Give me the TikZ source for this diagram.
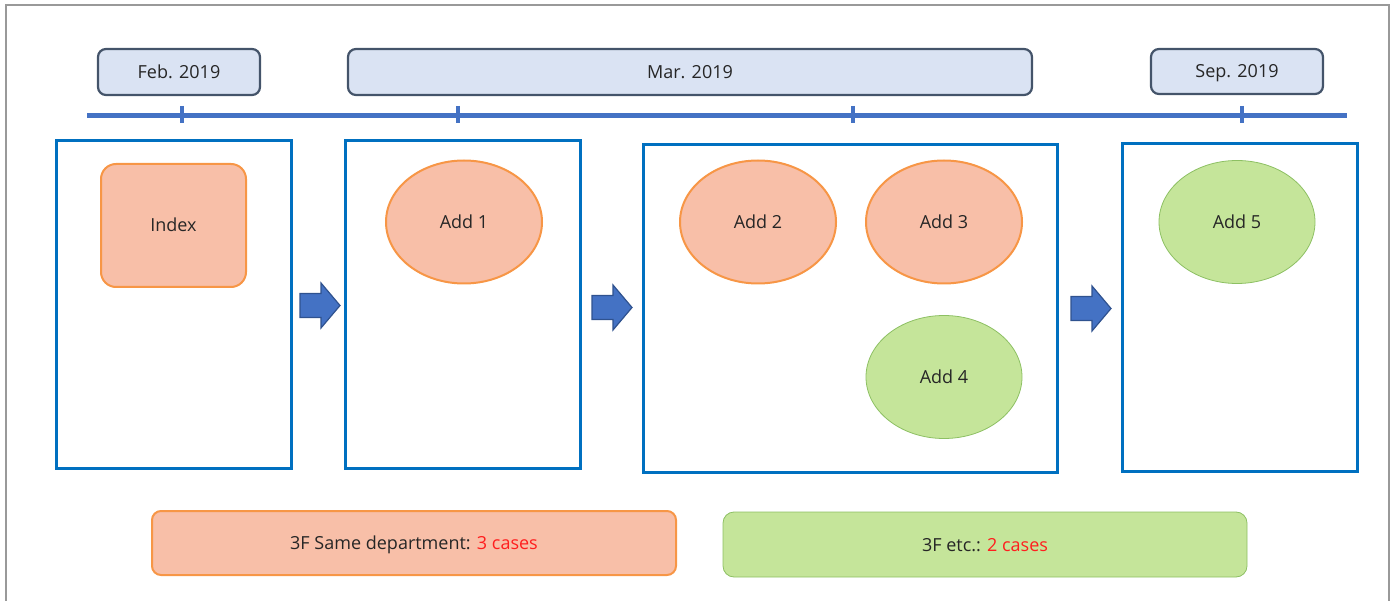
\documentclass[tikz,border=0pt]{standalone}
\usepackage{fontspec}
\setmainfont{Open Sans}
\usetikzlibrary{shapes.geometric}
\definecolor{dateline}{HTML}{44546A}
\definecolor{datefill}{HTML}{DAE3F3}
\definecolor{tline}{HTML}{4472C4}
\definecolor{framecol}{HTML}{0070C0}
\definecolor{salfill}{HTML}{F8BFA8}
\definecolor{salline}{HTML}{F79646}
\definecolor{grnfill}{HTML}{C5E59A}
\definecolor{grnline}{HTML}{8DC063}
\definecolor{arrline}{HTML}{2F528F}
\definecolor{txt}{HTML}{262626}
\definecolor{redtxt}{HTML}{FF1E1E}
\begin{document}
\begin{tikzpicture}[x=1pt,y=-1pt,
  every node/.style={text=txt, font=\fontsize{18}{21}\selectfont, text height=13pt, text depth=0pt},
  datebox/.style={draw=dateline, fill=datefill, line width=2.2pt, rounded corners=8pt, inner sep=0pt},
  framebox/.style={draw=framecol, line width=3pt, inner sep=0pt},
  salell/.style={ellipse, draw=salline, fill=salfill, line width=2pt, minimum width=156pt, minimum height=123pt, inner sep=0pt},
  grnell/.style={ellipse, draw=grnline, fill=grnfill, line width=0.8pt, minimum width=156pt, minimum height=123pt, inner sep=0pt},
  tick/.style={draw=tline, line width=4pt},
  blockarr/.style={fill=tline, draw=arrline, line width=1.2pt, line join=miter}]
\useasboundingbox (0,0) rectangle (1395,601);
% outer frame
\draw[draw=black!40, line width=1.2pt] (6,610) -- (6,5) -- (1389,5) -- (1389,610);
% date boxes
\node[datebox, minimum width=162pt, minimum height=46pt] (feb) at (179,72) {Feb. 2019};
\node[datebox, minimum width=684pt, minimum height=46pt] (mar) at (690,72) {Mar. 2019};
\node[datebox, minimum width=172pt, minimum height=45pt] (sep) at (1237,71.5) {Sep. 2019};
% timeline
\coordinate (tl0) at (87,116);
\coordinate (tl1) at (1347,116);
\draw[tline, line width=5pt] (tl0) -- (tl1);
\foreach \x in {182,458,853,1242}{
  \draw[tick] (\x,106) -- (\x,123);
}
% frames
\node[framebox, minimum width=235pt, minimum height=327pt] (f1) at (173.5,304.5) {};
\node[framebox, minimum width=235pt, minimum height=327pt] (f2) at (462.5,304.5) {};
\node[framebox, minimum width=414pt, minimum height=327pt] (f3) at (850,308.5) {};
\node[framebox, minimum width=235pt, minimum height=327pt] (f4) at (1239.5,307.5) {};
% shapes
\node[draw=salline, fill=salfill, line width=2pt, rounded corners=15pt, minimum width=145pt, minimum height=123pt, inner sep=0pt] (idx) at (173.5,225.5) {Index};
\node[salell] (a1) at (464,222) {Add 1};
\node[salell] (a2) at (758,222) {Add 2};
\node[salell] (a3) at (944,222) {Add 3};
\node[grnell] (a4) at (944,377) {Add 4};
\node[grnell] (a5) at (1237,222) {Add 5};
% block arrows
\foreach \x/\y in {300/305.5,592/307.5,1071/308.5}{
  \draw[blockarr] (\x,\y) ++(0,-12) -- ++(21,0) -- ++(0,-10.5) -- ++(19,22.5) -- ++(-19,22.5) -- ++(0,-10.5) -- ++(-21,0) -- cycle;
}
% bottom legends
\node[draw=salline, fill=salfill, line width=2pt, rounded corners=9pt, minimum width=524pt, minimum height=64pt, inner sep=0pt] (lg1) at (414,543) {3F Same department: \textcolor{redtxt}{3 cases}};
\node[draw=grnline, fill=grnfill, line width=0.8pt, rounded corners=11pt, minimum width=524pt, minimum height=65pt, inner sep=0pt] (lg2) at (985,544.5) {3F etc.: \textcolor{redtxt}{2 cases}};
\end{tikzpicture}
\end{document}
